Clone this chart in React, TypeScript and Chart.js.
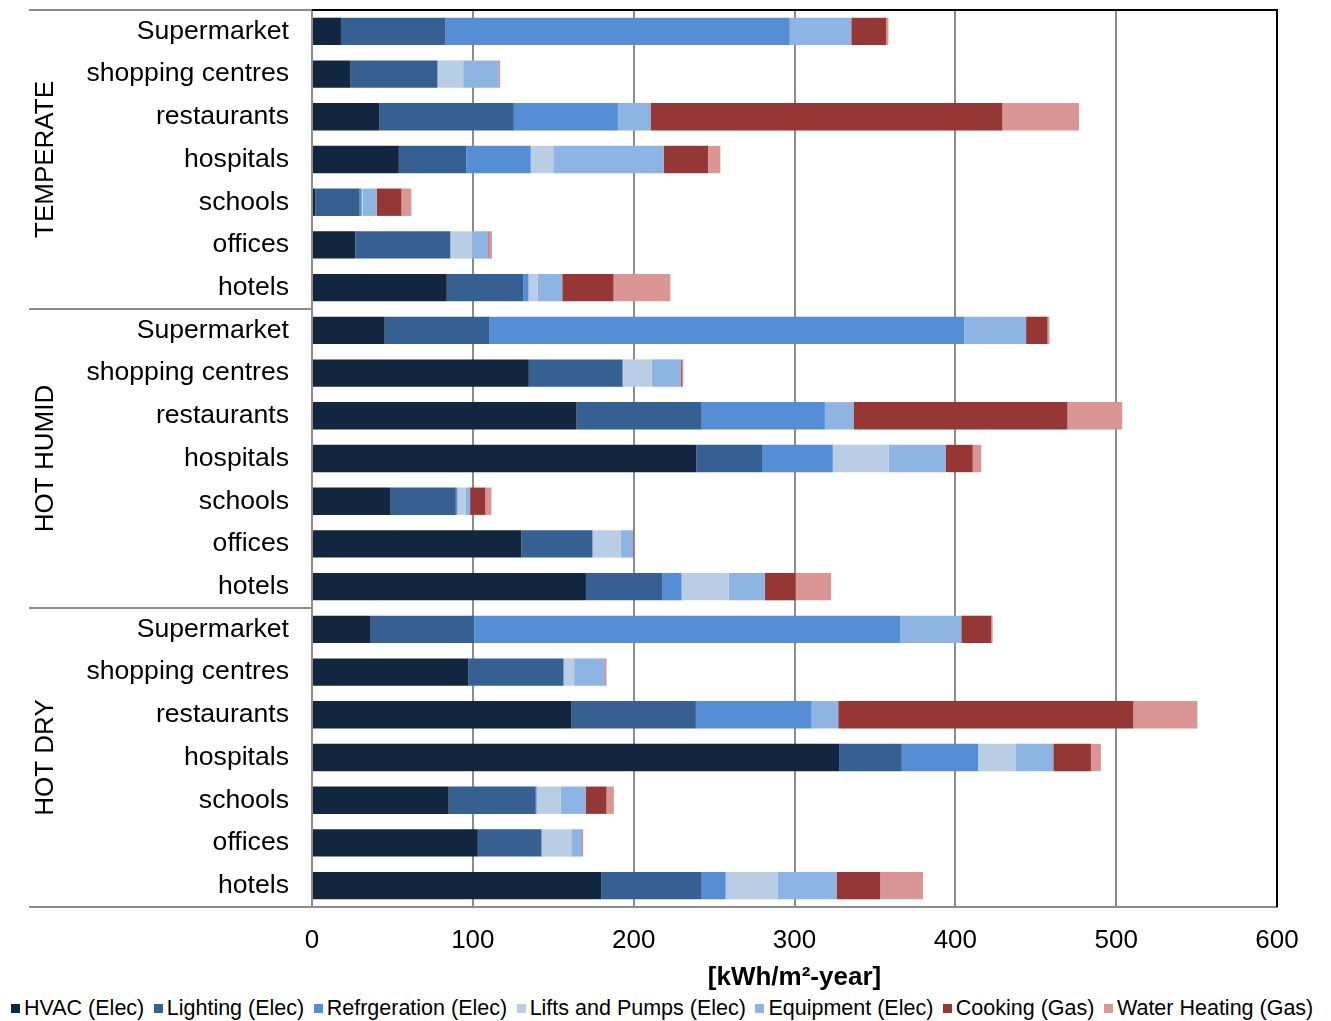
import React, { useEffect, useRef } from "react";
import { Chart, registerables } from "chart.js";

Chart.register(...registerables);

const groups = ["TEMPERATE", "HOT HUMID", "HOT DRY"];
const buildingTypes = ["Supermarket", "shopping centres", "restaurants", "hospitals", "schools", "offices", "hotels"];
const categories = [...buildingTypes, ...buildingTypes, ...buildingTypes];

const hvac = [18, 24, 42, 54, 2, 27, 83.8, 45.2, 134.8, 164.5, 239, 48.9, 130.2, 170.3, 36.5, 97.3, 161.4, 327.7, 85, 103.1, 179.8];
const lighting = [65, 54, 83.5, 42, 27.6, 59, 47.7, 64.9, 58.3, 77.8, 40.8, 40.5, 44.2, 47.7, 64.5, 59.1, 77.3, 39, 54.1, 39.6, 62.5];
const refrigeration = [214, 0, 64.7, 40, 1.3, 0, 3.1, 295.5, 0, 76.6, 44, 1, 0, 11.8, 264.6, 0, 72, 47.5, 0.6, 0, 14.9];
const liftsPumps = [0, 16, 0, 14, 0.6, 13.7, 5.6, 0, 18, 0, 34.8, 5, 17.4, 29.3, 0, 6.6, 0, 23.1, 15, 18.5, 32.2];
const equipment = [38.3, 22, 20.3, 68.8, 8.7, 9.9, 15.4, 38.4, 18.3, 17.8, 35.3, 2.9, 7.9, 22.4, 38.1, 18.9, 16.5, 23.6, 15.4, 6.4, 36.7];
const cooking = [21.7, 0.2, 218.7, 27.4, 15.4, 0.4, 31.9, 13.3, 0.5, 133, 16.9, 9.5, 0.3, 19.2, 18.6, 0.4, 183.5, 23.4, 13, 0.4, 27.1];
const waterHeating = [1.4, 0.8, 47.7, 7.7, 6.2, 1.9, 35.3, 1.2, 1, 34.1, 5.3, 3.8, 0.4, 22, 0.9, 0.8, 39.8, 6.2, 4.6, 0.6, 26.7];

const seriesNames = ["HVAC (Elec)", "Lighting (Elec)", "Refrgeration (Elec)", "Lifts and Pumps (Elec)", "Equipment (Elec)", "Cooking (Gas)", "Water Heating (Gas)"];
const seriesData = [hvac, lighting, refrigeration, liftsPumps, equipment, cooking, waterHeating];
const seriesColors = ["#132640", "#366092", "#558ED5", "#B9CDE5", "#8EB4E3", "#953735", "#D99694"];

const xTicks = [0, 100, 200, 300, 400, 500, 600];

const FONT = "'Liberation Sans', Arial, sans-serif";

const decorPlugin = {
  id: "decor",
  afterDraw(chart: any) {
    const { ctx, chartArea, scales } = chart;
    const y = scales.y;
    ctx.save();
    const seps: number[] = [chartArea.top];
    for (let g = 1; g < groups.length; g++) {
      const a = y.getPixelForValue(g * 7 - 1);
      const b = y.getPixelForValue(g * 7);
      seps.push((a + b) / 2);
    }
    seps.push(chartArea.bottom);
    ctx.strokeStyle = "#8c8c8c";
    ctx.lineWidth = 2;
    seps.forEach((sy) => {
      ctx.beginPath();
      ctx.moveTo(29, sy);
      ctx.lineTo(chartArea.left, sy);
      ctx.stroke();
    });
    ctx.strokeStyle = "#000";
    ctx.lineWidth = 2;
    ctx.beginPath();
    ctx.moveTo(chartArea.left, chartArea.top);
    ctx.lineTo(chartArea.right, chartArea.top);
    ctx.lineTo(chartArea.right, chartArea.bottom);
    ctx.stroke();
    ctx.fillStyle = "#000";
    ctx.font = `26px ${FONT}`;
    ctx.textAlign = "center";
    ctx.textBaseline = "middle";
    for (let g = 0; g < groups.length; g++) {
      const cy = (seps[g] + seps[g + 1]) / 2;
      ctx.save();
      ctx.translate(46, cy);
      ctx.rotate(-Math.PI / 2);
      ctx.fillText(groups[g], 0, 0);
      ctx.restore();
    }
    ctx.restore();
  },
};

export default function App() {
  const ref = useRef<HTMLCanvasElement>(null);
  useEffect(() => {
    if (!ref.current) return;
    const chart = new Chart(ref.current, {
      type: "bar",
      data: {
        labels: categories,
        datasets: seriesData.map((d, i) => ({
          label: seriesNames[i],
          data: d,
          backgroundColor: seriesColors[i],
          borderWidth: 0,
          categoryPercentage: 1,
          barPercentage: 0.64,
        })),
      },
      options: {
        indexAxis: "y",
        responsive: false,
        animation: false,
        devicePixelRatio: 1,
        layout: { padding: { top: 10, right: 54, left: 0, bottom: 0 } },
        plugins: {
          legend: { display: false },
          tooltip: { enabled: false },
        },
        scales: {
          x: {
            stacked: true,
            min: 0,
            max: 600,
            afterBuildTicks: (scale: any) => {
              scale.ticks = xTicks.map((v) => ({ value: v }));
            },
            afterFit: (scale: any) => {
              scale.height = 88;
              scale.paddingLeft = 0;
              scale.paddingRight = 0;
            },
            grid: { color: "#8c8c8c", lineWidth: 2, drawTicks: false },
            border: { color: "#8c8c8c", width: 2 },
            ticks: { color: "#000", font: { family: FONT, size: 26 }, padding: 18 },
            title: {
              display: true,
              text: "[kWh/m²-year]",
              color: "#000",
              font: { family: FONT, size: 26, weight: "bold" },
              padding: { top: 0, bottom: 2 },
            },
          },
          y: {
            stacked: true,
            afterFit: (scale: any) => {
              scale.width = 312;
              scale.paddingTop = 0;
              scale.paddingBottom = 0;
            },
            grid: { display: false, drawTicks: false },
            border: { color: "#8c8c8c", width: 2 },
            ticks: { color: "#000", font: { family: FONT, size: 26.6 }, padding: 23, autoSkip: false },
          },
        },
      } as any,
      plugins: [decorPlugin],
    });
    return () => chart.destroy();
  }, []);

  return (
    <div style={{ position: "absolute", left: 0, top: 0, width: 1331, height: 1021, background: "#fff" }}>
      <canvas ref={ref} width={1331} height={995} style={{ position: "absolute", left: 0, top: 0 }} />
      <div
        style={{
          position: "absolute",
          left: 11,
          top: 996,
          display: "flex",
          flexWrap: "nowrap",
          whiteSpace: "nowrap",
          fontFamily: FONT,
          fontSize: 21.5,
          lineHeight: "24px",
          color: "#000",
        }}
      >
        {seriesNames.map((n, i) => (
          <div key={n} style={{ display: "flex", alignItems: "center", marginRight: i < seriesNames.length - 1 ? 9.5 : 0 }}>
            <span style={{ display: "inline-block", width: 9, height: 9, background: seriesColors[i], marginRight: 4 }} />
            <span>{n}</span>
          </div>
        ))}
      </div>
    </div>
  );
}
